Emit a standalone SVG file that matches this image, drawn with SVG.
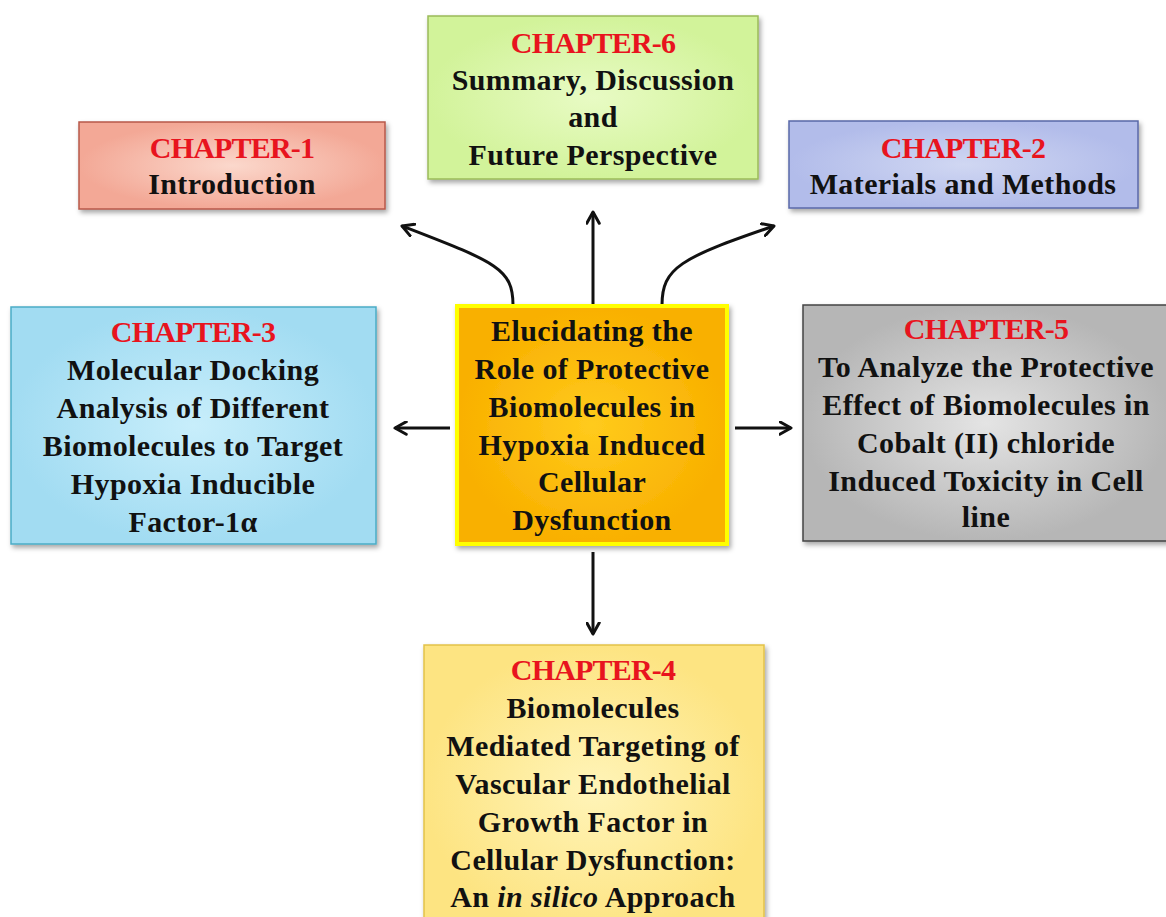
<svg xmlns="http://www.w3.org/2000/svg" width="1166" height="917" viewBox="0 0 1166 917">
<style>
.t{font-family:"Liberation Serif","DejaVu Serif",serif;font-weight:bold;font-size:30px;letter-spacing:0.4px;text-anchor:middle;fill:#111}
.r{fill:#e8141e;letter-spacing:-0.8px}
.c{stroke:#111;stroke-width:3;fill:none;marker-end:url(#ah)}
</style>
<defs>
<marker id="ah" viewBox="0 0 12 12" refX="10" refY="6" markerWidth="5" markerHeight="5" orient="auto" markerUnits="strokeWidth">
<polyline points="1,1 10,6 1,11" fill="none" stroke="#111" stroke-width="2.4" stroke-linecap="round" stroke-linejoin="round"/>
</marker>
<filter id="sh" x="-10%" y="-10%" width="125%" height="125%"><feDropShadow dx="2" dy="3" stdDeviation="2.5" flood-color="#000" flood-opacity="0.35"/></filter>
<radialGradient id="g1"><stop offset="0" stop-color="#fbd8cc"/><stop offset="1" stop-color="#f3a896"/></radialGradient>
<radialGradient id="g6"><stop offset="0" stop-color="#e8fbc4"/><stop offset="1" stop-color="#d2f39a"/></radialGradient>
<radialGradient id="g2"><stop offset="0" stop-color="#d0d7f2"/><stop offset="1" stop-color="#b2bcea"/></radialGradient>
<radialGradient id="g3"><stop offset="0" stop-color="#c8eefb"/><stop offset="1" stop-color="#a2dcf2"/></radialGradient>
<radialGradient id="gc"><stop offset="0" stop-color="#ffcb1c"/><stop offset="1" stop-color="#f9b000"/></radialGradient>
<radialGradient id="g5"><stop offset="0" stop-color="#e4e4e4"/><stop offset="1" stop-color="#b6b6b6"/></radialGradient>
<radialGradient id="g4"><stop offset="0" stop-color="#fff4b8"/><stop offset="1" stop-color="#fde482"/></radialGradient>
</defs>
<rect width="1166" height="917" fill="#fff"/>
<g id="connectors">
<path class="c" d="M593,305 L593,212"/>
<path class="c" d="M513,305 C513,268 495,262 402,226"/>
<path class="c" d="M662,305 C662,268 680,258 774,226"/>
<path class="c" d="M450,428 L395,428"/>
<path class="c" d="M735,428 L791,428"/>
<path class="c" d="M593,552 L593,634"/>
</g>
<g id="ch1">
<rect x="79" y="122" width="306" height="87" fill="url(#g1)" stroke="#b8584a" stroke-width="1.5" filter="url(#sh)"/>
<text class="t" x="232" y="158"><tspan class="r">CHAPTER-1</tspan><tspan x="232" dy="36">Introduction</tspan></text>
</g>
<g id="ch6">
<rect x="428" y="16" width="330" height="163" fill="url(#g6)" stroke="#9bbb59" stroke-width="1.5" filter="url(#sh)"/>
<text class="t" x="593" y="53"><tspan class="r">CHAPTER-6</tspan><tspan x="593" dy="37">Summary, Discussion</tspan><tspan x="593" dy="37">and</tspan><tspan x="593" dy="38">Future Perspective</tspan></text>
</g>
<g id="ch2">
<rect x="789" y="121" width="349" height="87" fill="url(#g2)" stroke="#5868a8" stroke-width="1.5" filter="url(#sh)"/>
<text class="t" x="963" y="158"><tspan class="r">CHAPTER-2</tspan><tspan x="963" dy="36">Materials and Methods</tspan></text>
</g>
<g id="ch3">
<rect x="11" y="307" width="365" height="237" fill="url(#g3)" stroke="#4bacc6" stroke-width="1.5" filter="url(#sh)"/>
<text class="t" x="193" y="342"><tspan class="r">CHAPTER-3</tspan><tspan x="193" dy="38">Molecular Docking</tspan><tspan x="193" dy="38">Analysis of Different</tspan><tspan x="193" dy="38">Biomolecules to Target</tspan><tspan x="193" dy="38">Hypoxia Inducible</tspan><tspan x="193" dy="38">Factor-1α</tspan></text>
</g>
<g id="center">
<rect x="457" y="306" width="270" height="238" fill="url(#gc)" stroke="#ffff00" stroke-width="4" filter="url(#sh)"/>
<text class="t" x="592" y="341"><tspan>Elucidating the</tspan><tspan x="592" dy="38">Role of Protective</tspan><tspan x="592" dy="38">Biomolecules in</tspan><tspan x="592" dy="38">Hypoxia Induced</tspan><tspan x="592" dy="37">Cellular</tspan><tspan x="592" dy="38">Dysfunction</tspan></text>
</g>
<g id="ch5">
<rect x="803" y="305" width="366" height="236" fill="url(#g5)" stroke="#444" stroke-width="1.5" filter="url(#sh)"/>
<text class="t" x="986" y="339"><tspan class="r">CHAPTER-5</tspan><tspan x="986" dy="38">To Analyze the Protective</tspan><tspan x="986" dy="38">Effect of Biomolecules in</tspan><tspan x="986" dy="38">Cobalt (II) chloride</tspan><tspan x="986" dy="38">Induced Toxicity in Cell</tspan><tspan x="986" dy="36">line</tspan></text>
</g>
<g id="ch4">
<rect x="424" y="645" width="340" height="290" fill="url(#g4)" stroke="#e2c24a" stroke-width="1.5" filter="url(#sh)"/>
<text class="t" x="593" y="680"><tspan class="r">CHAPTER-4</tspan><tspan x="593" dy="38">Biomolecules</tspan><tspan x="593" dy="38">Mediated Targeting of</tspan><tspan x="593" dy="38">Vascular Endothelial</tspan><tspan x="593" dy="38">Growth Factor in</tspan><tspan x="593" dy="38">Cellular Dysfunction:</tspan><tspan x="593" dy="37">An <tspan font-style="italic">in silico</tspan> Approach</tspan></text>
</g>
</svg>
